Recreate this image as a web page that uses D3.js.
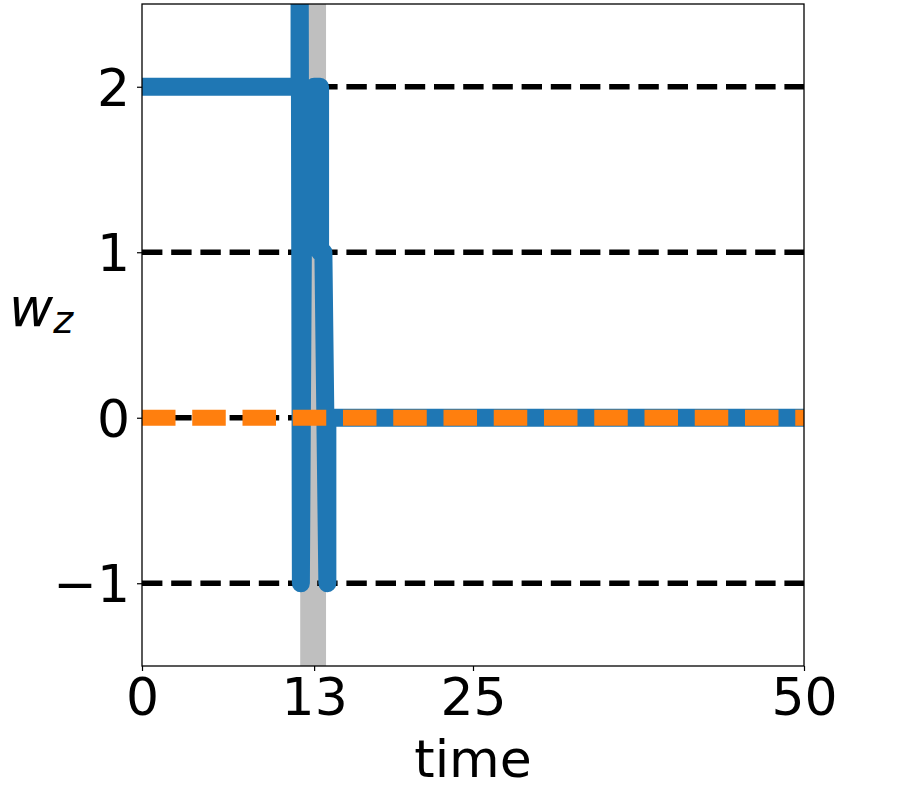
<!DOCTYPE html>
<html>
<head>
<meta charset="utf-8">
<script src="https://cdn.jsdelivr.net/npm/d3@7"></script>
<style>
    body { margin: 0; background: #fff; }
    text { font-family: "DejaVu Sans", sans-serif; fill: #000; }
</style>
</head>
<body>
<script>
//wrap everything in a self-executing anonymous function
(function(){

//blue series (w_z over time)
var blueTimes  = [0, 11.9, 11.9, 12.0, 12.15, 13.0, 13.45, 13.45, 13.7, 14.0, 14.0, 50];
var blueValues = [2, 2,    3.2,  -1,   1,     2,    2,     1,     1,    -1,   0,    0];

//orange reference series
var orangeTimes  = [0, 50];
var orangeValues = [0, 0];

//dashed horizontal levels
var levels = [2, 1, 0, -1];

//shaded time interval
var band = [11.95, 13.9];

//ticks
var xTicks = [0, 13, 25, 50];
var yTicks = [-1, 0, 1, 2];

window.onload = drawChart();

function drawChart(){
    var width = 902,
        height = 790;

    var margin = {top: 4, left: 142, right: 98, bottom: 124},
        plotW = width - margin.left - margin.right,
        plotH = height - margin.top - margin.bottom;

    var svg = d3.select("body")
        .append("svg")
        .attr("width", width)
        .attr("height", height);

    var x = d3.scaleLinear().domain([0, 50]).range([0, plotW]);
    var y = d3.scaleLinear().domain([-1.5, 2.5]).range([plotH, 0]);

    svg.append("defs").append("clipPath")
        .attr("id", "plotclip")
        .append("rect")
        .attr("width", plotW)
        .attr("height", plotH);

    var g = svg.append("g")
        .attr("transform", "translate(" + margin.left + "," + margin.top + ")");

    var plot = g.append("g").attr("clip-path", "url(#plotclip)");

    //gray band
    plot.append("rect")
        .attr("x", x(band[0]))
        .attr("y", 0)
        .attr("width", x(band[1]) - x(band[0]))
        .attr("height", plotH)
        .attr("fill", "#bfbfbf");

    //black dashed levels
    plot.selectAll(".level")
        .data(levels)
        .enter()
        .append("line")
        .attr("class", "level")
        .attr("x1", x(0))
        .attr("x2", x(50))
        .attr("y1", function(d){ return y(d); })
        .attr("y2", function(d){ return y(d); })
        .attr("stroke", "#000")
        .attr("stroke-width", 5.5)
        .attr("stroke-dasharray", "20.4,8.8");

    var line = d3.line()
        .x(function(d){ return x(d[0]); })
        .y(function(d){ return y(d[1]); });

    //blue line
    plot.append("path")
        .datum(d3.zip(blueTimes, blueValues))
        .attr("d", line)
        .attr("fill", "none")
        .attr("stroke", "#1f77b4")
        .attr("stroke-width", 18)
        .attr("stroke-linejoin", "round");

    //orange dashed line
    plot.append("path")
        .datum(d3.zip(orangeTimes, orangeValues))
        .attr("d", line)
        .attr("fill", "none")
        .attr("stroke", "#ff7f0e")
        .attr("stroke-width", 16)
        .attr("stroke-dasharray", "33.5,16.75");

    //axes
    var xAxis = g.append("g")
        .attr("transform", "translate(0," + plotH + ")")
        .call(d3.axisBottom(x).tickValues(xTicks).tickSize(5).tickPadding(6)
            .tickFormat(d3.format("d")));
    var yAxis = g.append("g")
        .call(d3.axisLeft(y).tickValues(yTicks).tickSize(5).tickPadding(7)
            .tickFormat(function(d){ return d < 0 ? "\u2212" + Math.abs(d) : d; }));

    [xAxis, yAxis].forEach(function(a){
        a.select(".domain").remove();
        a.selectAll("line").attr("stroke", "#000").attr("stroke-width", 1.2);
        a.selectAll("text").style("font-size", "52px");
    });
    yAxis.selectAll("text").attr("dy", "0.36em");
    xAxis.selectAll("text").attr("dy", "0.74em");

    //frame
    g.append("rect")
        .attr("width", plotW)
        .attr("height", plotH)
        .attr("fill", "none")
        .attr("stroke", "#000")
        .attr("stroke-width", 1.3);

    //axis labels
    svg.append("text")
        .attr("x", margin.left + plotW / 2)
        .attr("y", 777)
        .attr("text-anchor", "middle")
        .style("font-size", "52px")
        .text("time");

    var ylab = svg.append("text")
        .attr("x", 9)
        .attr("y", 326)
        .style("font-size", "54px")
        .style("font-style", "italic");
    ylab.append("tspan").text("w");
    ylab.append("tspan")
        .attr("dy", 7)
        .style("font-size", "38px")
        .text("z");
}

})();
</script>
</body>
</html>
